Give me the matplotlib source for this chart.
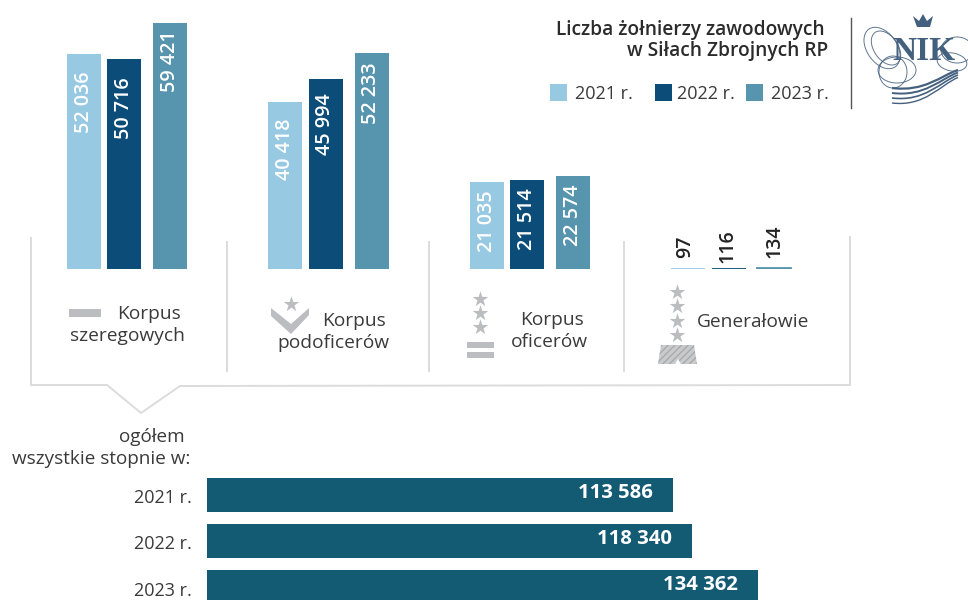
import matplotlib
matplotlib.use("Agg")
import matplotlib.pyplot as plt
from matplotlib.patches import Polygon, Rectangle, Ellipse, PathPatch
from matplotlib.path import Path

# ---- data ----
years = ["2021 r.", "2022 r.", "2023 r."]
corps = ["Korpus szeregowych", "Korpus podoficerów", "Korpus oficerów", "Generałowie"]
values_2021 = [52036, 40418, 21035, 97]
values_2022 = [50716, 45994, 21514, 116]
values_2023 = [59421, 52233, 22574, 134]
totals = [113586, 118340, 134362]

# ---- style / layout ----
W, H = 968, 600
C_YEAR = ["#97c9e3", "#0b4c78", "#5794ae"]
C_TOTAL = "#135a73"
C_TEXT = "#3a3a3a"
C_GRAY = "#bcbdc0"
C_FRAME = "#dcdcdc"
C_LOGO = "#44607f"
FONT = "Open Sans"
plt.rcParams["font.family"] = [FONT, "DejaVu Sans"]

group_x = [[84, 124, 170], [285, 325.5, 371.5], [486.5, 527, 573], [688, 729, 774]]
label_top_gap = [[18, 18, 7], [17, 15, 10], [8, 8, 9]]
gen_label_x = [685, 727, 774]
gen_label_base = [258, 263, 258]
bar_w = 34
base_px = 269
px_per_unit = 246 / 59421
hbar_px_per_unit = 0.0041

fig = plt.figure(figsize=(W / 100, H / 100), dpi=100, facecolor="white")


def axes_px(x0, y0, x1, y1, **kw):
    return fig.add_axes([x0 / W, 1 - y1 / H, (x1 - x0) / W, (y1 - y0) / H], **kw)


# ---- vertical bars ----
ax = axes_px(0, 0, W, base_px)
ax.set_xlim(0, W)
ax.set_ylim(0, base_px / px_per_unit)
ax.axis("off")
ax.patch.set_alpha(0)
series = [values_2021, values_2022, values_2023]
for s, vals in enumerate(series):
    xs = [group_x[g][s] for g in range(4)]
    ax.bar(xs[:3], vals[:3], width=bar_w, color=C_YEAR[s], linewidth=0)
    ax.bar(xs[3:], vals[3:], width=bar_w, color=C_YEAR[s], edgecolor=C_YEAR[s], linewidth=1.3)
    for g in range(3):
        txt = f"{vals[g]:,}".replace(",", " ")
        ax.annotate(txt, (xs[g], vals[g]), xytext=(0, -label_top_gap[g][s] * 0.72),
                    textcoords="offset points", rotation=90, ha="center", va="top",
                    color="white", fontsize=14.2, fontweight="semibold")

# ---- horizontal bars ----
bx = axes_px(207, 472, W, H)
bx.set_xlim(0, (W - 207) / hbar_px_per_unit)
bx.set_ylim(128 / 46 - 0.5, -0.5)
bx.axis("off")
bx.patch.set_alpha(0)
bx.barh(range(3), totals, height=34.5 / 46, color=C_TOTAL, linewidth=0)
for i, v in enumerate(totals):
    bx.annotate(f"{v:,}".replace(",", " "), (v, i), xytext=(-20 * 0.72, 1.5),
                textcoords="offset points", ha="right", va="center",
                color="white", fontsize=14.6, fontweight="bold")

# ---- overlay in pixels ----
ov = fig.add_axes([0, 0, 1, 1], zorder=5)
ov.set_xlim(0, W)
ov.set_ylim(H, 0)
ov.axis("off")
ov.patch.set_alpha(0)


def t(x, y, s, ha="center", size=13.8, color=C_TEXT, **kw):
    ov.text(x, y, s, ha=ha, va="center", fontsize=size, color=color, **kw)


# frame
ov.plot([31, 31, 107, 141, 180, 850, 850], [238, 385, 385, 413, 386, 385, 237],
        color=C_FRAME, lw=1.4, solid_joinstyle="miter")
for x in (227, 429, 624):
    ov.plot([x, x], [242, 371], color=C_FRAME, lw=1.4)

# generals' labels
for i, s in enumerate(series):
    ov.text(gen_label_x[i], gen_label_base[i], str(s[3]), rotation=90, ha="center", va="bottom",
            fontsize=14, color="#222222", fontweight="semibold")

# category labels
t(149, 314, "Korpus")
t(127, 336, "szeregowych")
t(354, 321, "Korpus")
t(333, 343, "podoficerów")
t(552, 320, "Korpus")
t(549, 342, "oficerów")
t(753, 322, "Generałowie")

# rank icons
ov.add_patch(Rectangle((69, 309), 32, 8, color=C_GRAY, lw=0))
ov.add_patch(Polygon([(271, 308), (291, 324), (309, 308), (309, 315), (291, 334), (271, 316)],
                     color=C_GRAY, lw=0))
ov.scatter([291], [304], marker="*", s=140, color=C_GRAY, lw=0)
ov.scatter([480, 480, 480], [299, 313, 327], marker="*", s=140, color=C_GRAY, lw=0)
ov.add_patch(Rectangle((467, 342), 27, 6, color=C_GRAY, lw=0))
ov.add_patch(Rectangle((467, 352), 27, 6, color=C_GRAY, lw=0))
ov.scatter([677] * 4, [292, 306, 321, 335], marker="*", s=140, color=C_GRAY, lw=0)
ov.add_patch(Polygon([(661, 345), (694, 345), (697, 364), (681, 364), (678, 359), (675, 364), (658, 364)],
                     facecolor="#c9cacc", edgecolor="#a9aaac", hatch="/////", lw=0))

# title + legend
t(825, 30, "Liczba żołnierzy zawodowych", ha="right", size=13.8, fontweight="semibold", color="#2b2b2b")
t(828, 51, "w Siłach Zbrojnych RP", ha="right", size=13.8, fontweight="semibold", color="#2b2b2b")
for x, tx, lab, c in zip((550, 655, 746), (575, 677, 771), years, C_YEAR):
    ov.add_patch(Rectangle((x, 84), 17, 17, color=c, lw=0))
    t(tx, 94, lab, ha="left", size=13)

# left labels of the lower block
t(185, 437, "ogółem", ha="right", size=13.6)
t(190, 459, "wszystkie stopnie w:", ha="right", size=13.6)
for y, lab in zip((498, 544, 591), years):
    t(192, y, lab, ha="right", size=13)

# logo
ov.plot([851, 851], [18, 108], color="#555555", lw=1)
ov.text(924, 52, "NIK", ha="center", va="center", fontsize=24, fontfamily="Liberation Serif",
        fontweight="bold", color=C_LOGO, zorder=6)
ov.add_patch(Polygon([(913, 16), (919, 21), (923, 14), (927, 21), (933, 16), (930, 27), (917, 27)],
                     color=C_LOGO, lw=0))
for (cx, cy, w, h, a) in [(882, 48, 30, 46, -35), (886, 48, 24, 38, -35), (897, 70, 38, 26, 0),
                          (893, 72, 28, 32, 0), (957, 50, 32, 26, 0), (952, 62, 30, 18, 10)]:
    ov.add_patch(Ellipse((cx, cy), w, h, angle=a, fill=False, ec=C_LOGO, lw=0.7, alpha=0.85))
for dy, lw in zip((0, 5, 10, 15), (1.6, 1.4, 1.2, 1.0)):
    p = Path([(892, 88 + dy), (925, 92 + dy), (940, 76 + dy * 0.6), (958, 70 + dy * 0.5)],
             [Path.MOVETO, Path.CURVE4, Path.CURVE4, Path.CURVE4])
    ov.add_patch(PathPatch(p, fill=False, ec=C_LOGO, lw=lw))

fig.savefig("out.png", dpi=100, facecolor="white")
